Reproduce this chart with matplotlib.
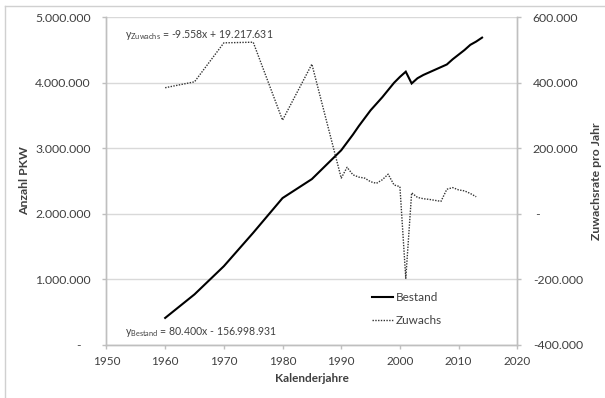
import matplotlib
matplotlib.use("Agg")
import matplotlib.pyplot as plt
from matplotlib.lines import Line2D

plt.rcParams['font.family'] = ['Lato', 'DejaVu Sans']

# Bestand (Anzahl PKW)
jahre_bestand = [1960, 1965, 1970, 1975, 1980, 1985, 1990, 1991, 1992, 1993, 1994,
                 1995, 1996, 1997, 1998, 1999, 2000, 2001, 2002, 2003, 2004, 2005,
                 2006, 2007, 2008, 2009, 2010, 2011, 2012, 2013, 2014]
bestand = [410000, 770000, 1200000, 1710000, 2240000, 2530000, 2970000, 3090000,
           3210000, 3340000, 3460000, 3580000, 3680000, 3780000, 3890000, 4000000,
           4090000, 4170000, 3990000, 4070000, 4120000, 4160000, 4200000, 4240000,
           4280000, 4360000, 4430000, 4500000, 4580000, 4630000, 4690000]

# Zuwachs pro Jahr
jahre_zuwachs = [1960, 1965, 1970, 1975, 1980, 1985, 1990, 1991, 1992, 1993, 1994,
                 1995, 1996, 1997, 1998, 1999, 2000, 2001, 2002, 2003, 2004, 2005,
                 2006, 2007, 2008, 2009, 2010, 2011, 2012, 2013]
zuwachs = [385000, 403000, 522000, 524000, 286000, 457000, 109000, 142000, 119000,
           112000, 109000, 98000, 93000, 104000, 121000, 88000, 83000, -197000,
           64000, 50000, 46000, 44000, 41000, 38000, 75000, 80000, 73000, 70000,
           62000, 52000]

left_ticks = [0, 1000000, 2000000, 3000000, 4000000, 5000000]
right_ticks = [-400000, -200000, 0, 200000, 400000, 600000]
x_ticks = [1950, 1960, 1970, 1980, 1990, 2000, 2010, 2020]


def de_format(v, side):
    if v == 0:
        return "-   " if side == "left" else " -"
    s = f"{abs(int(v)):,}".replace(",", ".")
    return ("-" if v < 0 else "") + s


grid_col = "#d9d9d9"
axis_col = "#bfbfbf"
text_col = "#404040"

fig = plt.figure(figsize=(6.05, 3.98), dpi=100)
ax = fig.add_axes([0.176, 0.1337, 0.679, 0.8228])
ax2 = ax.twinx()

ax.plot(jahre_bestand, bestand, color="black", lw=1.5, solid_joinstyle="miter")
ax2.plot(jahre_zuwachs, zuwachs, color="#333333", lw=1.0, linestyle=(0, (1, 1)))

ax.set_xlim(1950, 2020)
ax.set_ylim(0, 5000000)
ax2.set_ylim(-400000, 600000)

ax.set_xticks(x_ticks)
ax.set_yticks(left_ticks)
ax.set_yticklabels([de_format(v, "left") for v in left_ticks])
ax2.set_yticks(right_ticks)
ax2.set_yticklabels([de_format(v, "right") for v in right_ticks])

ax.grid(axis="y", color=grid_col, lw=1.0)
ax.set_axisbelow(True)

for a in (ax, ax2):
    a.spines["top"].set_visible(False)
    for s in ("left", "right", "bottom"):
        a.spines[s].set_color(axis_col)
        a.spines[s].set_linewidth(1.0)
    a.tick_params(colors=axis_col, labelcolor=text_col, labelsize=8.8,
                  length=3.2, width=1.0, direction="out")
ax.tick_params(axis="y", pad=8)
ax2.tick_params(axis="y", pad=8)
ax.tick_params(axis="x", pad=5, labelsize=8.5)

ax.set_xlabel("Kalenderjahre", fontsize=8.5, fontweight="bold", color=text_col, labelpad=4)
ax.set_ylabel("Anzahl PKW", fontsize=8.8, fontweight="bold", color=text_col, labelpad=4)
ax2.set_ylabel("Zuwachsrate pro Jahr", fontsize=8.8, fontweight="bold", color=text_col, labelpad=6)

ax.text(1953.2, 4735000, r"y$_{\mathregular{Zuwachs}}$ = -9.558x + 19.217.631",
        fontsize=7.6, color=text_col, va="center", ha="left")
ax.text(1953.2, 200000, r"y$_{\mathregular{Bestand}}$ = 80.400x - 156.998.931",
        fontsize=7.6, color=text_col, va="center", ha="left")

handles = [Line2D([], [], color="black", lw=1.5),
           Line2D([], [], color="#333333", lw=1.0, linestyle=(0, (1, 1)))]
ax.legend(handles, ["Bestand", "Zuwachs"], loc="lower left",
          bbox_to_anchor=(0.62, 0.025), frameon=False, fontsize=8.5,
          handlelength=1.8, handletextpad=0.2, labelspacing=1.0,
          labelcolor=text_col)

# outer border of the chart area
fig.add_artist(Line2D([5 / 605, 5 / 605], [0, 1 - 6 / 398], color="#d0d0d0", lw=1.0))
fig.add_artist(Line2D([5 / 605, 1], [1 - 6 / 398, 1 - 6 / 398], color="#d0d0d0", lw=1.0))

fig.savefig("out.png", dpi=100)
